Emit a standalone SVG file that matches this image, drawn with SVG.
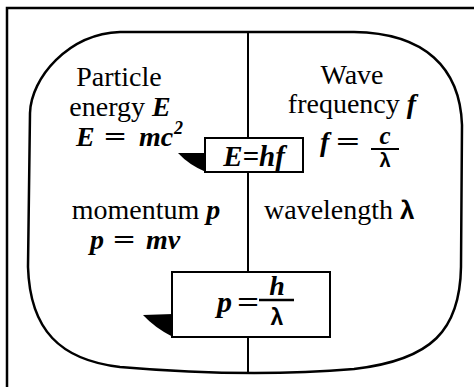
<svg xmlns="http://www.w3.org/2000/svg" width="474" height="387" viewBox="0 0 474 387">
<style>
.t{font-family:"Liberation Serif","Times New Roman",serif;font-size:28px;fill:#000}
.m{font-family:"Liberation Serif","Times New Roman",serif;font-weight:bold;font-style:italic;fill:#000}
.eq{font-family:"Liberation Serif","Times New Roman",serif;font-weight:bold;fill:#000}
.g{font-family:"Liberation Sans","DejaVu Sans",sans-serif;font-weight:bold;fill:#000}
.ln{stroke:#000;fill:none}
.box{fill:#fff;stroke:#000;stroke-width:2}
</style>
<rect width="474" height="387" fill="#fff"/>
<g id="frame">
<path class="ln" stroke-width="2.5" d="M7,387 L7,8 L474,8"/>
</g>
<g id="outline">
<path class="ln" stroke-width="2.5" d="M120,32 L354,32 C425,33 460,68 462,125 L461,267 C460,330 432,360 354,369 Q248,378 120,367 C60,360 30,330 28,267 L30,113 C31,78 68,34 120,32 Z"/>
</g>
<g id="connectors">
<line class="ln" stroke-width="2" x1="248" y1="32" x2="248" y2="372"/>
</g>
<g id="particle">
<text class="t" x="119" y="86" text-anchor="middle">Particle</text>
<text class="t" x="120" y="116" text-anchor="middle">energy <tspan class="m">E</tspan></text>
<text class="m" x="76" y="146" font-size="28">E</text>
<text class="eq" x="104" y="146" font-size="28" transform="translate(104 0) scale(1.4 1) translate(-104 0)">=</text>
<text class="m" x="139" y="146" font-size="28">mc</text>
<text class="m" x="174" y="134" font-size="18">2</text>
</g>
<g id="wave">
<text class="t" x="352" y="84" text-anchor="middle">Wave</text>
<text class="t" x="352" y="113" text-anchor="middle">frequency <tspan class="m">f</tspan></text>
<text class="m" x="320" y="151" font-size="28">f</text>
<text class="eq" x="336" y="151" font-size="28" transform="translate(336 0) scale(1.5 1) translate(-336 0)">=</text>
<text class="m" x="385" y="144" font-size="25" text-anchor="middle">c</text>
<line class="ln" stroke-width="2" x1="371" y1="149" x2="399" y2="149"/>
<text class="g" x="385" y="167" font-size="20" text-anchor="middle">λ</text>
</g>
<g id="ehf">
<path fill="#000" d="M178,153 L206,153 L206,172 Q189,165 178,153 Z"/>
<rect class="box" x="205" y="138" width="98" height="34"/>
<text class="m" x="254" y="166" font-size="29" text-anchor="middle">E=hf</text>
</g>
<g id="momentum">
<text class="t" x="146" y="219" text-anchor="middle">momentum <tspan class="m">p</tspan></text>
<text class="m" x="90" y="249" font-size="28">p</text>
<text class="eq" x="113" y="249" font-size="28" transform="translate(113 0) scale(1.4 1) translate(-113 0)">=</text>
<text class="m" x="146" y="249" font-size="28">mv</text>
</g>
<g id="wavelength">
<text class="t" x="264" y="219" font-size="29">wavelength</text>
<text class="g" x="400" y="219" font-size="26">λ</text>
</g>
<g id="phl">
<path fill="#000" d="M143,315 L173,314 L173,337 Q155,328 143,315 Z"/>
<rect class="box" x="172" y="272" width="158" height="65"/>
<text class="m" x="217" y="312" font-size="30">p</text>
<text class="eq" x="237" y="312" font-size="30" transform="translate(237 0) scale(1.3 1) translate(-237 0)">=</text>
<text class="m" x="277" y="295" font-size="28" text-anchor="middle">h</text>
<line class="ln" stroke-width="2.5" x1="259" y1="300" x2="294" y2="300"/>
<text class="g" x="277" y="325" font-size="23" text-anchor="middle">λ</text>
</g>
</svg>
